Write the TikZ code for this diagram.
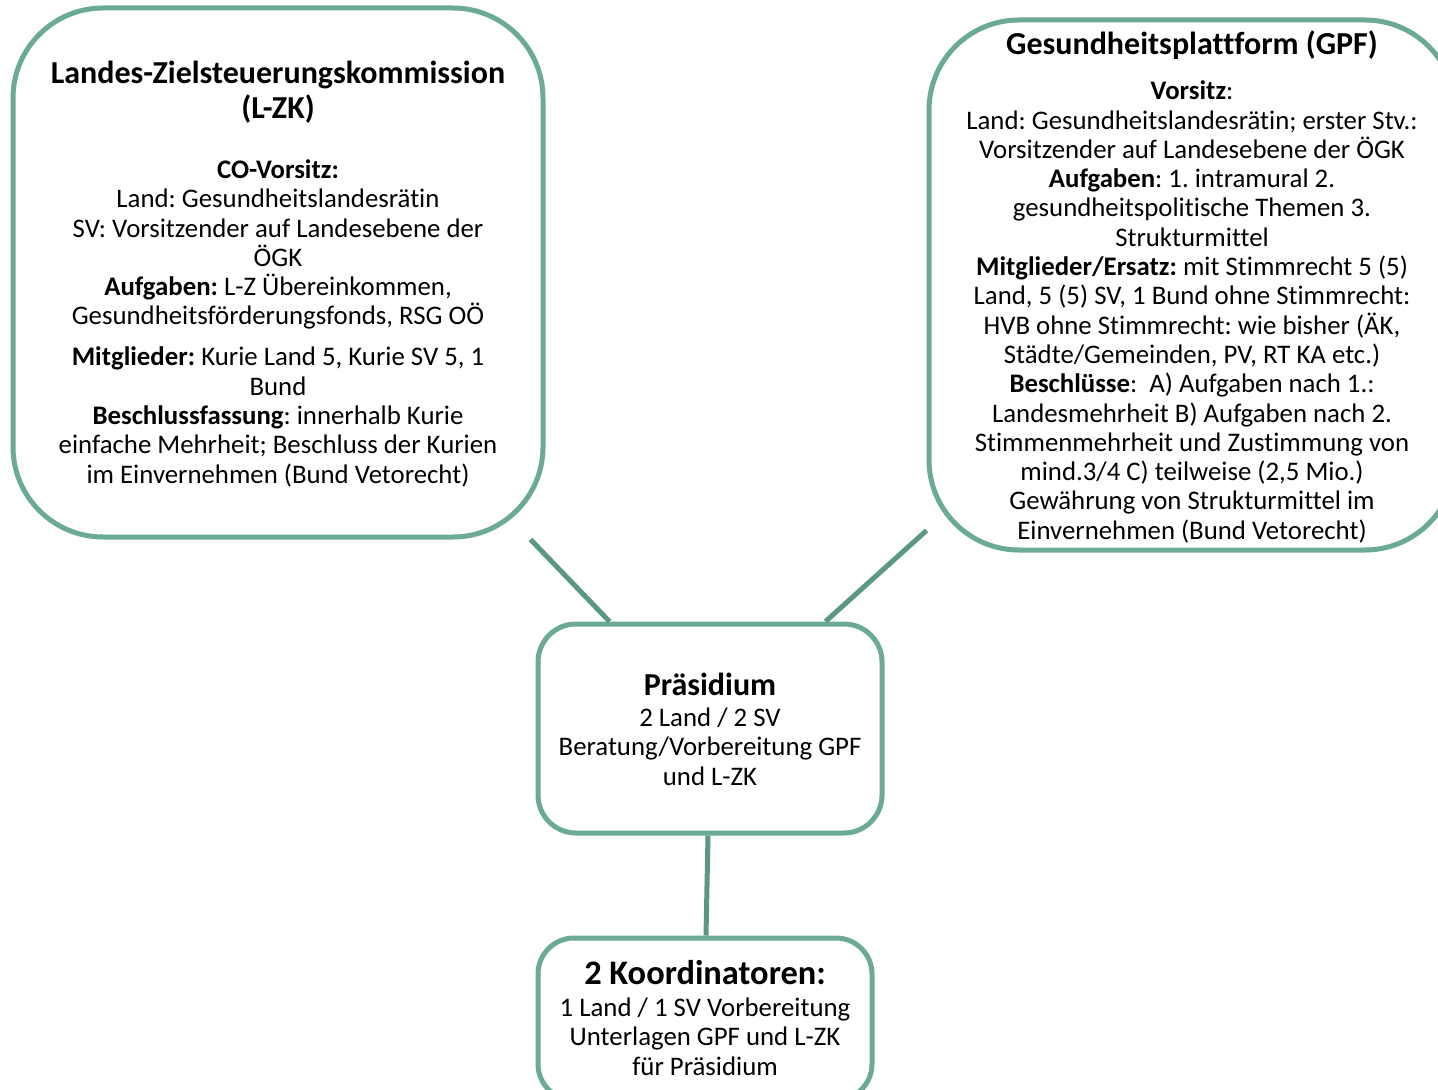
\documentclass[tikz,border=0pt]{standalone}
\usepackage{fontspec}
\setmainfont{Carlito}[Ligatures={NoCommon}]
\frenchspacing
\definecolor{boxc}{RGB}{106,170,150}
\definecolor{linec}{RGB}{90,152,130}
\begin{document}
\lineskiplimit=-100pt\relax
\begin{tikzpicture}[x=0.5pt,y=-0.5pt,
  box/.style={draw=boxc,line width=2.5pt,rectangle,inner sep=0pt,fill=white},
  conn/.style={draw=linec,line width=2.5pt},
  txt/.style={align=center,inner sep=0pt,font=\fontsize{13.4}{14.65}\selectfont,text=black}]
\clip (0,0) rectangle (1438,1090);
\fill[white] (0,0) rectangle (1438,1090);
% boxes
\node[box,rounded corners=45pt,minimum width=265pt,minimum height=264.5pt] (lzk) at (278,272.5) {};
\node[box,rounded corners=45pt,minimum width=263pt,minimum height=265pt] (gpf) at (1192,285) {};
\node[box,rounded corners=19pt,minimum width=172pt,minimum height=104.5pt] (pres) at (710,728.5) {};
\node[box,rounded corners=18pt,minimum width=167pt,minimum height=81pt] (koord) at (705,1019) {};
% connectors
\draw[conn] ([xshift=-7.5pt]lzk.south east) -- ([xshift=37pt]pres.north west);
\draw[conn] ([yshift=11pt]gpf.south west) -- ([xshift=-29.5pt]pres.north east);
\draw[conn] ([xshift=-1pt]pres.south) -- ([xshift=0.5pt]koord.north);
% texts
\node[txt,anchor=north] (lzkT) at (278,60.6) {%
{\fontsize{16}{17}\selectfont\bfseries Landes-Zielsteuerungskommission}\\[2.85pt]
{\fontsize{16}{17}\selectfont\bfseries (L-ZK)}\\[15.35pt]
\textbf{CO-Vorsitz:}\\
Land: Gesundheitslandesrätin\\
SV: Vorsitzender auf Landesebene der\\
ÖGK\\
\textbf{Aufgaben:} L-Z Übereinkommen,\\
Gesundheitsförderungsfonds, RSG OÖ\\[5.85pt]
\textbf{Mitglieder:} Kurie Land 5, Kurie SV 5, 1\\
Bund\\
\textbf{Beschlussfassung}: innerhalb Kurie\\
einfache Mehrheit; Beschluss der Kurien\\
im Einvernehmen (Bund Vetorecht)};
\node[txt,anchor=north] (gpfT) at (1192,30.6) {%
{\fontsize{16}{17}\selectfont\bfseries Gesundheitsplattform (GPF)}\\[7.85pt]
\textbf{Vorsitz}:\\
Land: Gesundheitslandesrätin; erster Stv.:\\
Vorsitzender auf Landesebene der ÖGK\\
\textbf{Aufgaben}: 1. intramural 2.\\
gesundheitspolitische Themen 3.\\
Strukturmittel\\
\textbf{Mitglieder/Ersatz:} mit Stimmrecht 5 (5)\\
Land, 5 (5) SV, 1 Bund ohne Stimmrecht:\\
HVB ohne Stimmrecht: wie bisher (ÄK,\\
Städte/Gemeinden, PV, RT KA etc.)\\
\textbf{Beschlüsse}: \ A) Aufgaben nach 1.:\\
Landesmehrheit B) Aufgaben nach 2.\\
Stimmenmehrheit und Zustimmung von\\
mind.3/4 C) teilweise (2,5 Mio.)\\
Gewährung von Strukturmittel im\\
Einvernehmen (Bund Vetorecht)};
\node[txt,anchor=north] (presT) at (710,672.6) {%
{\fontsize{16}{17}\selectfont\bfseries Präsidium}\\[0.85pt]
2 Land / 2 SV\\
Beratung/Vorbereitung GPF\\
und L-ZK};
\node[txt,anchor=north] (koordT) at (705,960) {%
{\fontsize{17.2}{18}\selectfont\bfseries 2 Koordinatoren:}\\[1.35pt]
1 Land / 1 SV Vorbereitung\\
Unterlagen GPF und L-ZK\\
für Präsidium};
\end{tikzpicture}
\end{document}
